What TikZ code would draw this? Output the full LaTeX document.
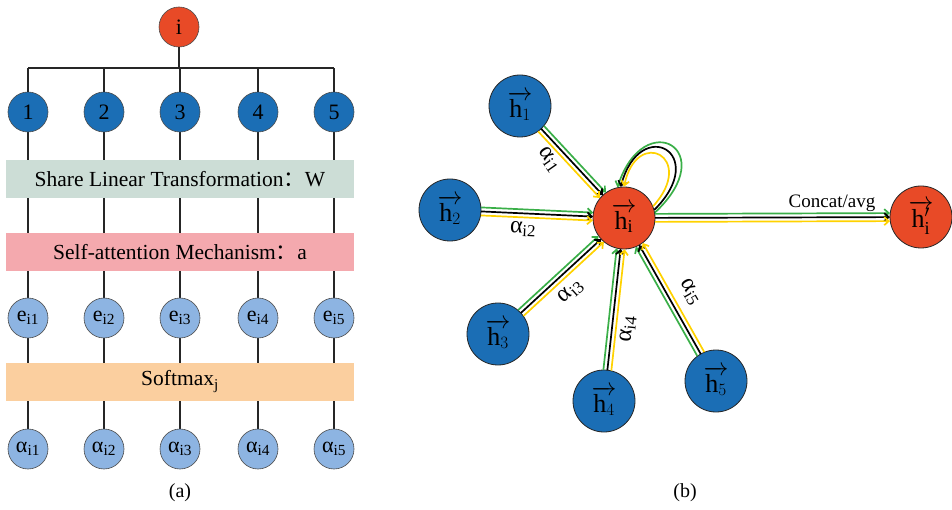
\documentclass[tikz,border=0pt]{standalone}
\usepackage{fontspec}
\setmainfont{Liberation Serif}
\newfontfamily\cjkfont{Noto Sans CJK SC}
\usetikzlibrary{arrows.meta,calc}
\pgfdeclarelayer{back}
\pgfsetlayers{back,main}

\definecolor{nodered}{HTML}{E84A27}
\definecolor{nodeblue}{HTML}{1B6EB5}
\definecolor{lightblue}{HTML}{8DB4E2}
\definecolor{bandgreen}{HTML}{CCDDD6}
\definecolor{bandpink}{HTML}{F4A9AE}
\definecolor{bandpeach}{HTML}{FBCF9F}
\definecolor{egreen}{HTML}{3AAF48}
\definecolor{eyellow}{HTML}{FFD200}

% three parallel arrows (green / black / yellow) from #1 to #2
\newcommand{\tripleedge}[2]{%
  \path ($(#1)!31pt!(#2)$) coordinate (ts) ($(#2)!31pt!(#1)$) coordinate (te);
  \draw[gline] ($(ts)!4pt!90:(te)$) -- ($(te)!4pt!-90:(ts)$);
  \draw[kline] (ts) -- (te);
  \draw[yline] ($(ts)!4pt!-90:(te)$) -- ($(te)!4pt!90:(ts)$);
}

\begin{document}
\begin{tikzpicture}[x=1pt,y=1pt,
  small/.style={circle, draw=black!70, line width=0.6pt, minimum size=40pt,
    inner sep=0pt, font=\fontsize{22}{24}\selectfont},
  big/.style={circle, draw=black!85, line width=0.8pt, minimum size=62pt,
    inner sep=0pt, fill=nodeblue, font=\fontsize{26}{28}\selectfont},
  band/.style={minimum width=348pt, minimum height=38pt, inner sep=0pt,
    font=\fontsize{21.5}{24}\selectfont},
  wire/.style={draw=black!85, line width=1.1pt},
  arrtip/.style={-{Straight Barb[length=4.5pt,width=8pt]}},
  gline/.style={draw=egreen, line width=1.7pt, arrtip},
  kline/.style={draw=black, line width=1.7pt, arrtip},
  yline/.style={draw=eyellow, line width=1.7pt, arrtip},
  lbl/.style={inner sep=0pt, font=\fontsize{24}{26}\selectfont},
  captxt/.style={inner sep=0pt, font=\fontsize{20}{22}\selectfont}]
\useasboundingbox (0,0) rectangle (952,-510);

% ---------- (a) attention coefficients ----------
\node[small, fill=nodered] (i) at (179,-27) {i};
\foreach \k/\x in {1/28,2/104,3/180,4/258,5/334} {
  \node[small, fill=nodeblue] (n\k) at (\x,-112) {\k};
  \node[small, fill=lightblue] (e\k) at (\x,-318) {e\textsubscript{i\k}};
  \node[small, fill=lightblue] (a\k) at (\x,-449) {α\textsubscript{i\k}};
}
\node[band, fill=bandgreen] (lin) at (180,-179) {Share Linear Transformation{\cjkfont ：}W};
\node[band, fill=bandpink] (att) at (180,-252) {Self-attention Mechanism{\cjkfont ：}a};
\node[band, fill=bandpeach] (soft) at (180,-381.5) {Softmax\textsubscript{j}};

\coordinate (fork) at (179,-68);
\draw[wire] (i) -- (fork);
\draw[wire] (n1 |- fork) -- (n5 |- fork);
\foreach \k in {1,...,5} \draw[wire] (n\k) -- (n\k |- fork);
\begin{pgfonlayer}{back}
  \foreach \k in {1,...,5} \draw[wire] (n\k) -- (a\k);
\end{pgfonlayer}

\node[captxt] (capa) at (180,-493) {(a)};

% ---------- (b) neighbourhood aggregation ----------
\node[big, fill=nodered] (hi) at (624,-218) {$\overrightarrow{\mathrm{h}_{\mathrm{i}}}$};
\node[big] (h1) at (520,-106) {$\overrightarrow{\mathrm{h}_{1}}$};
\node[big] (h2) at (450,-210) {$\overrightarrow{\mathrm{h}_{2}}$};
\node[big] (h3) at (498,-334) {$\overrightarrow{\mathrm{h}_{3}}$};
\node[big] (h4) at (604,-401) {$\overrightarrow{\mathrm{h}_{4}}$};
\node[big] (h5) at (716,-381) {$\overrightarrow{\mathrm{h}_{5}}$};
\node[big, fill=nodered] (hout) at (921,-217) {$\overrightarrow{\mathrm{h}'_{\mathrm{i}}}$};

\tripleedge{h1}{hi}
\tripleedge{h2}{hi}
\tripleedge{h3}{hi}
\tripleedge{h4}{hi}
\tripleedge{h5}{hi}
\tripleedge{hi}{hout}

% self loop on the centre node
\draw[gline] (hi.10) .. controls +(43:92) and +(72:86) .. (hi.102);
\draw[kline] (hi.15) .. controls +(45:80) and +(75:75) .. (hi.96);
\draw[yline] (hi.22) .. controls +(48:66) and +(78:62) .. (hi.90);

\node[lbl, rotate=-55] (l1) at (549,-160) {α\textsubscript{i1}};
\node[lbl, rotate=-3] (l2) at (523,-229) {α\textsubscript{i2}};
\node[lbl, rotate=42] (l3) at (571,-292) {α\textsubscript{i3}};
\node[lbl, rotate=84] (l4) at (628,-329) {α\textsubscript{i4}};
\node[lbl, rotate=-60] (l5) at (690,-292) {α\textsubscript{i5}};
\node[lbl, font=\fontsize{19}{22}\selectfont] (ca) at (832,-203) {Concat/avg};

\node[captxt] (capb) at (685,-493) {(b)};
\end{tikzpicture}
\end{document}
